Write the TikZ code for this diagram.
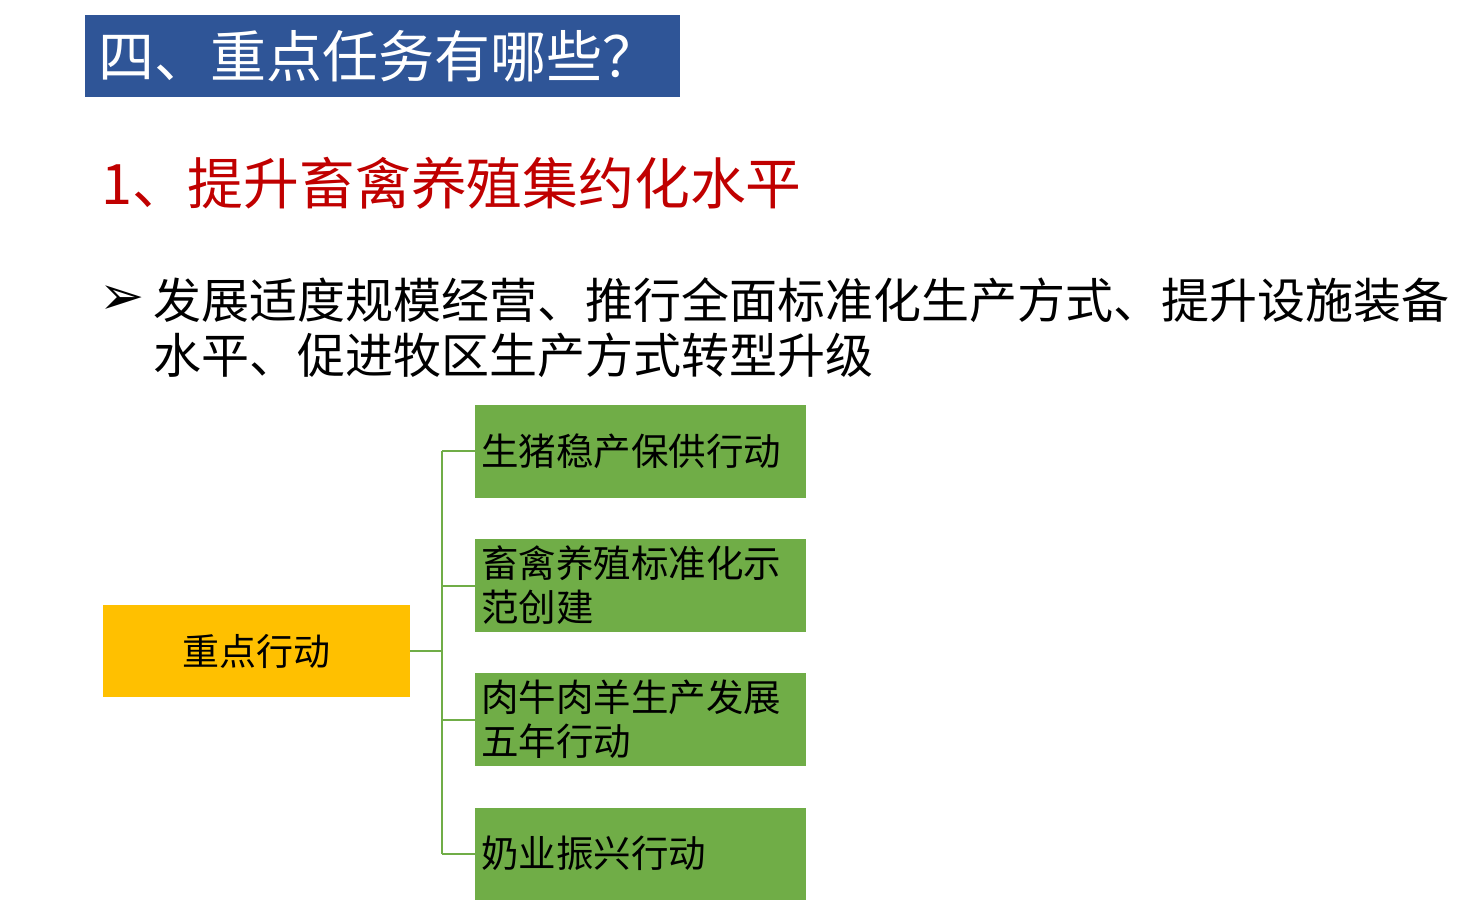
\documentclass[tikz,border=0pt]{standalone}
\usepackage{fontspec}
\setmainfont{Noto Sans CJK SC}
\newfontfamily\symfont{DejaVu Sans}
\usetikzlibrary{positioning}
\definecolor{barblue}{HTML}{2F5597}
\definecolor{headred}{HTML}{C00000}
\definecolor{actgreen}{HTML}{70AD47}
\definecolor{keygold}{HTML}{FFC000}

\begin{document}
\begin{tikzpicture}[
  x=1pt, y=-1pt,
  titlebar/.style={fill=barblue, text=white, anchor=north west, inner xsep=13pt,
                   inner ysep=0pt, minimum height=82pt, text width=569pt, align=left,
                   font=\fontsize{56}{60}\selectfont},
  heading/.style={text=headred, anchor=west, inner sep=0pt,
                  font=\fontsize{55.8}{60}\selectfont},
  point/.style={anchor=west, inner sep=0pt, align=left,
                font=\fontsize{48}{55}\selectfont},
  keybox/.style={fill=keygold, anchor=north west, minimum width=307pt,
                 minimum height=92pt, font=\fontsize{37}{45}\selectfont},
  actbox/.style={fill=actgreen, inner xsep=6pt, text width=319pt, align=left,
                 minimum height=92.5pt, font=\fontsize{37.5}{44}\selectfont},
  link/.style={draw=actgreen, line width=2pt},
  node distance=41.2pt]

\useasboundingbox (0,0) rectangle (1480,902);

% title and headline
\node[titlebar] (title) at (85,15) {四、重点任务有哪些？};
\node[heading] (task) at (101,183) {1、提升畜禽养殖集约化水平};

% bullet
\node[anchor=west, inner sep=0pt, font=\fontsize{54}{60}\symfont] (mark) at (99,300) {➢};
\node[point] (meas) at (153,327.5)
  {发展适度规模经营、推行全面标准化生产方式、提升设施装备\\水平、促进牧区生产方式转型升级};

% actions
\node[keybox] (focus) at (103,605) {重点行动};
\node[actbox, anchor=north west] (pig) at (475,405) {生猪稳产保供行动};
\node[actbox, below=of pig] (std) {畜禽养殖标准化示\\范创建};
\node[actbox, below=of std] (beef) {肉牛肉羊生产发展\\五年行动};
\node[actbox, below=of beef] (milk) {奶业振兴行动};

% tree lines
\coordinate[right=32pt of focus.east] (trunk);
\draw[link] (focus.east) -- (trunk);
\draw[link] (trunk |- pig.west) -- (trunk |- milk.west);
\foreach \b in {pig,std,beef,milk}
  \draw[link] (trunk |- \b.west) -- (\b.west);
\end{tikzpicture}
\end{document}
